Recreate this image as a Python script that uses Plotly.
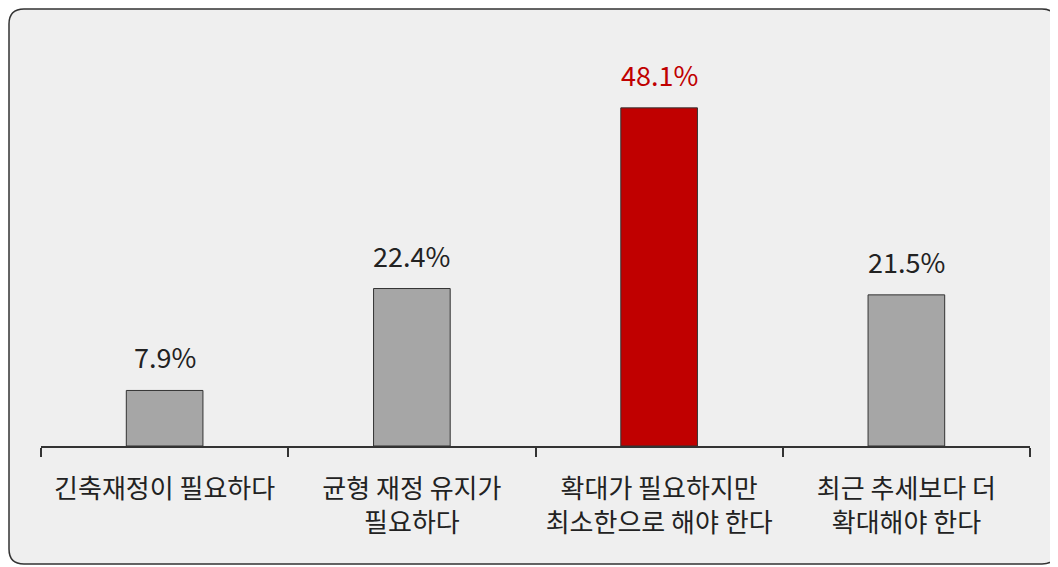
import plotly.graph_objects as go

categories = ["긴축재정이 필요하다", "균형 재정 유지가<br>필요하다", "확대가 필요하지만<br>최소한으로 해야 한다", "최근 추세보다 더<br>확대해야 한다"]
values = [7.9, 22.4, 48.1, 21.5]
value_labels = ["7.9%", "22.4%", "48.1%", "21.5%"]
bar_colors = ["#a6a6a6", "#a6a6a6", "#c00000", "#a6a6a6"]
label_colors = ["#222222", "#222222", "#c00000", "#222222"]

# the page body adds an 8px offset; compensate
OFF = 8
W, H = 1058, 567
L, R, T, B = 41 - OFF, 28 + OFF, 40 - OFF, 121 + OFF
pw, ph = W - L - R, H - T - B
font = "Noto Sans CJK KR"

def px(x):
    return (x - OFF - L) / pw

def py(y):
    return (H - B - (y - OFF)) / ph

fig = go.Figure()
fig.add_trace(go.Bar(
    x=categories, y=values,
    marker=dict(color=bar_colors, line=dict(color="#333333", width=1)),
    width=0.31, hoverinfo="skip",
))

for c, v, t, col in zip(categories, values, value_labels, label_colors):
    fig.add_annotation(x=c, y=v, text=t, showarrow=False, yanchor="bottom",
                       yshift=12, font=dict(family=font, size=27, color=col))

# rounded background panel (target-page pixel coordinates)
x0, x1, y0, y1, r = 9, 1057, 9, 564, 15
path = (f"M {px(x0+r)},{py(y0)} L {px(x1-r)},{py(y0)} Q {px(x1)},{py(y0)} {px(x1)},{py(y0+r)} "
        f"L {px(x1)},{py(y1-r)} Q {px(x1)},{py(y1)} {px(x1-r)},{py(y1)} "
        f"L {px(x0+r)},{py(y1)} Q {px(x0)},{py(y1)} {px(x0)},{py(y1-r)} "
        f"L {px(x0)},{py(y0+r)} Q {px(x0)},{py(y0)} {px(x0+r)},{py(y0)} Z")
fig.add_shape(type="path", path=path, xref="paper", yref="paper",
              fillcolor="#efefef", line=dict(color="#333333", width=1.5), layer="below")

fig.update_layout(
    width=W, height=H,
    margin=dict(l=L, r=R, t=T, b=B, autoexpand=False),
    paper_bgcolor="white", plot_bgcolor="rgba(0,0,0,0)",
    showlegend=False,
    font=dict(family=font, size=26, color="#222222"),
    xaxis=dict(showline=True, linecolor="#333333", linewidth=1.5, automargin=False,
               ticks="outside", tickson="boundaries", ticklen=9, tickcolor="#333333",
               tickwidth=1.5, ticklabelstandoff=19,
               tickfont=dict(family=font, size=26, color="#222222"),
               showgrid=False, fixedrange=True),
    yaxis=dict(range=[0, ph / 7.03], visible=False, showgrid=False, fixedrange=True,
               automargin=False),
)

fig.write_html("out.html")
